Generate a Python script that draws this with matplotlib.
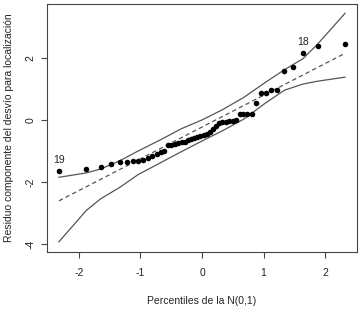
import matplotlib
matplotlib.use("Agg")
import matplotlib.pyplot as plt

# ============================================================
# QQ PLOT - RESIDUO COMPONENTE DEL DESVIO (LOCALIZACION)
# ============================================================

plt.rcParams["font.family"] = ["Liberation Sans", "DejaVu Sans"]
plt.rcParams["axes.unicode_minus"] = False

# percentiles de la N(0,1) (eje x) para los 50 residuos
z = [-2.326, -1.881, -1.645, -1.476, -1.341, -1.227, -1.126, -1.036, -0.954, -0.878,
     -0.806, -0.739, -0.674, -0.613, -0.553, -0.496, -0.440, -0.385, -0.332, -0.279,
     -0.228, -0.176, -0.126, -0.075, -0.025, 0.025, 0.075, 0.126, 0.176, 0.228,
     0.279, 0.332, 0.385, 0.440, 0.496, 0.553, 0.613, 0.674, 0.739, 0.806,
     0.878, 0.954, 1.036, 1.126, 1.227, 1.341, 1.476, 1.645, 1.881, 2.326]

# residuos ordenados
resid = [-1.66, -1.59, -1.53, -1.43, -1.37, -1.35, -1.33, -1.32, -1.29, -1.24,
         -1.17, -1.10, -1.04, -1.00, -0.82, -0.80, -0.78, -0.75, -0.72, -0.70,
         -0.66, -0.62, -0.58, -0.55, -0.52, -0.50, -0.45, -0.38, -0.30, -0.20,
         -0.10, -0.08, -0.06, -0.04, -0.02, 0.00, 0.18, 0.19, 0.20, 0.20,
         0.54, 0.86, 0.86, 0.95, 0.96, 1.58, 1.70, 2.17, 2.37, 2.45]

# recta de referencia
ref_x = [-2.326, 2.326]
ref_y = [-2.61, 2.15]

# envelope
env_x = [-2.326, -1.881, -1.645, -1.341, -1.036, -0.674, -0.332, 0.0,
         0.332, 0.674, 1.036, 1.341, 1.645, 1.881, 2.326]
env_hi = [-1.85, -1.71, -1.58, -1.32, -1.00, -0.64, -0.28, 0.00,
          0.33, 0.72, 1.22, 1.62, 1.98, 2.45, 3.44]
env_lo = [-3.93, -2.92, -2.54, -2.18, -1.76, -1.38, -1.02, -0.68,
          -0.35, 0.02, 0.55, 0.96, 1.16, 1.25, 1.38]

# puntos identificados
lab_idx = [0, 47]
lab_txt = ["19", "18"]

fig = plt.figure(figsize=(3.59, 3.09), dpi=100)
ax = fig.add_axes([47 / 359, 57 / 309, 310 / 359, 248 / 309])

ax.plot(env_x, env_hi, color="#555555", linewidth=0.9)
ax.plot(env_x, env_lo, color="#555555", linewidth=0.9)
ax.plot(ref_x, ref_y, color="#555555", linewidth=0.9, linestyle=(0, (3.5, 2.5)))
ax.plot(z, resid, "o", color="black", markersize=4.0, markeredgewidth=0)

for i, t in zip(lab_idx, lab_txt):
    ax.annotate(t, (z[i], resid[i]), xytext=(0, 8), textcoords="offset points",
                ha="center", va="center", fontsize=7.5, color="#222222")

ax.set_xlim(-2.52, 2.52)
ax.set_ylim(-4.26, 3.74)
ax.set_xticks([-2, -1, 0, 1, 2])
ax.set_yticks([-4, -2, 0, 2])

for s in ax.spines.values():
    s.set_color("#444444")
    s.set_linewidth(0.8)

ax.tick_params(axis="both", direction="out", length=4.5, width=0.8,
               color="#444444", labelsize=7.5, labelcolor="#222222")
ax.tick_params(axis="x", pad=7)
ax.tick_params(axis="y", pad=4)
for lab in ax.get_yticklabels():
    lab.set_rotation(90)
    lab.set_va("center")

ax.set_xlabel("Percentiles de la N(0,1)", fontsize=7.5, color="#222222", labelpad=13)
ax.set_ylabel("Residuo componente del desvío para localización", fontsize=7.5,
              color="#222222", labelpad=8)

fig.savefig("out.png", dpi=100)
